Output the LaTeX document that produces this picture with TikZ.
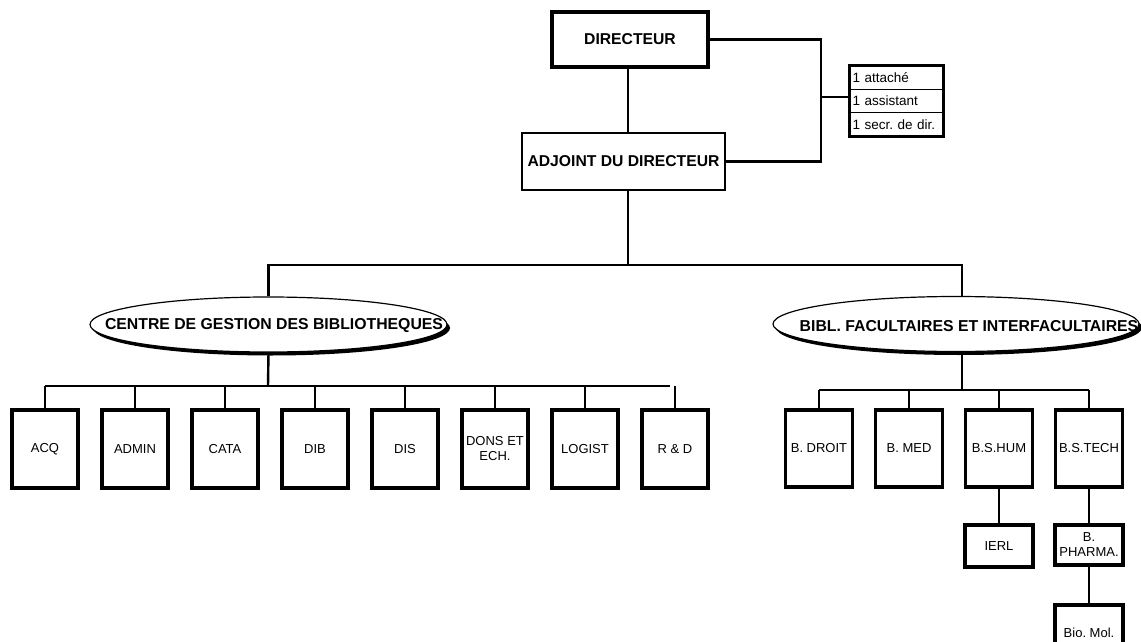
\documentclass[tikz,border=0pt]{standalone}
\usepackage{fontspec}
\setmainfont{Liberation Sans}
\frenchspacing
\usetikzlibrary{shapes.geometric,shadows}
\begin{document}
\begin{tikzpicture}[x=1pt,y=-1pt,
  conn/.style={line width=2.4pt},
  thinconn/.style={line width=1.8pt},
  bigbox/.style={draw,rectangle,inner sep=1pt,font=\bfseries\fontsize{15.7}{18}\selectfont},
  unit/.style={draw,rectangle,line width=3.8pt,minimum width=66pt,minimum height=78pt,inner sep=1pt,align=center,font=\fontsize{13}{15}\selectfont},
  subunit/.style={draw,rectangle,line width=3.6pt,minimum width=68pt,inner sep=1pt,align=center,font=\fontsize{13}{15}\selectfont},
  ell/.style={draw,ellipse,line width=1.2pt,fill=white,minimum width=357pt,minimum height=55pt,inner sep=0pt,
    drop shadow={shadow xshift=3pt,shadow yshift=-3.5pt,fill=black,opacity=1}},
  elltext/.style={inner sep=0pt,font=\bfseries\fontsize{15.8}{18}\selectfont},
  staff/.style={draw,rectangle,line width=1.5pt,minimum width=93pt,minimum height=23.3pt,inner sep=2.5pt,
    text width=88pt,align=left,font=\fontsize{13.5}{15}\selectfont}
]
\useasboundingbox (0,0) rectangle (1141,642);
\clip (0,0) rectangle (1141,642);
\fill[white] (0,0) rectangle (1141,642);

% top
\node[bigbox,line width=3.4pt,minimum width=156pt,minimum height=55pt] (dir) at (630,39.5) {DIRECTEUR};
\node[bigbox,line width=2pt,minimum width=203pt,minimum height=57pt] (adj) at (623.5,161.5) {ADJOINT DU DIRECTEUR};
\draw[thinconn] (dir.south -| 628,0) -- (adj.north -| 628,0);

% staff table
\node[staff] (s1) at (896.5,77.7) {1 attaché};
\node[staff] (s2) at (896.5,101) {1 assistant};
\node[staff] (s3) at (896.5,124.3) {1 secr. de dir.};
\draw[line width=3.4pt] (s1.north west) rectangle (s3.south east);

\coordinate (bx) at (821,0);
\draw[conn] (dir.east) -| (bx |- adj.east) -- (adj.east);
\draw[conn] (bx |- 0,97) -- (s2.west |- 0,97);

% main split
\coordinate (j1) at (628,265);
\coordinate (xr) at (962,0);
\node[ell] (cgb) at (268.5,324.5) {};
\node[elltext] (cgbt) at (274,326) {CENTRE DE GESTION DES BIBLIOTHEQUES};
\node[ell,minimum width=366pt] (bft) at (956,324) {};
\node[elltext] (bftt) at (969,326) {BIBL. FACULTAIRES ET INTERFACULTAIRES};
\draw[conn] (adj.south -| j1) -- (j1);
\draw[line width=2.8pt] (cgb.north) |- (xr |- j1) -- (xr |- bft.north);

% left units
\foreach \n/\t [count=\i from 0] in {acq/ACQ,admin/ADMIN,cata/CATA,dib/DIB,dis/DIS,dons/{DONS ET\\ECH.},logist/LOGIST,rd/R \& D}{
  \node[unit] (\n) at (45+90*\i,449) {\t};
}
\coordinate (hl) at (268,386);
\coordinate (hlend) at (670,386);
\draw[conn] (cgb.south) -- (hl);
\draw[thinconn] (acq.north |- hl) -- (hlend);
\foreach \n in {acq,admin,cata,dib,dis,dons,logist,rd}{
  \draw[conn] (\n.north) -- (\n.north |- hl);
}

% right units
\foreach \n/\t [count=\i from 0] in {droit/B. DROIT,med/B. MED,hum/B.S.HUM,tech/B.S.TECH}{
  \node[unit,minimum width=67pt,minimum height=77pt] (\n) at (819+90*\i,448.5) {\t};
}
\coordinate (hr) at (962,390);
\draw[conn] (xr |- bft.south) -- (hr);
\draw[conn] (droit.north |- hr) -- (tech.north |- hr);
\foreach \n in {droit,med,hum,tech}{
  \draw[conn] (\n.north) -- (\n.north |- hr);
}

\node[subunit,minimum height=42pt] (ierl) at (999,546) {IERL};
\node[subunit,minimum height=40pt] (pharma) at (1089,545) {B.\\PHARMA.};
\node[subunit,minimum height=55pt] (bio) at (1089,632.5) {Bio. Mol.};
\draw[conn] (hum.south) -- (ierl.north);
\draw[conn] (tech.south) -- (pharma.north);
\draw[conn] (pharma.south) -- (bio.north);
\end{tikzpicture}
\end{document}
